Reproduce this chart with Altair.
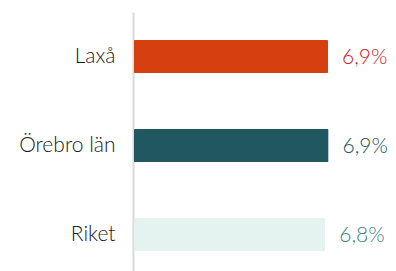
import altair as alt
import pandas as pd

categories = ["Laxå", "Örebro län", "Riket"]
values = [6.9, 6.92, 6.8]
labels = ["6,9%", "6,9%", "6,8%"]
bar_colors = ["#D63F10", "#215761", "#E4F3EF"]
text_colors = ["#C41E2A", "#24555B", "#43807F"]

df = pd.DataFrame({"cat": categories, "value": values, "label": labels,
                   "bar": bar_colors, "tc": text_colors})

y = alt.Y("cat:N", sort=categories, title=None,
          scale=alt.Scale(paddingInner=0.63, paddingOuter=0.315),
          axis=alt.Axis(domainColor="#D9D9D9", domainWidth=2, ticks=False,
                        labelFont="Lato", labelFontSize=21, labelFontWeight=300,
                        labelColor="#1A1A1A",
                        labelPadding=18, grid=False, offset=1))
x = alt.X("value:Q", scale=alt.Scale(domain=[0, 8.5]), axis=None)

bars = alt.Chart(df).mark_bar(cornerRadius=1).encode(
    x=x, y=y, color=alt.Color("bar:N", scale=None))
text = alt.Chart(df).mark_text(align="left", baseline="middle", dx=14, dy=1,
                               font="Lato", fontSize=21, fontWeight=300).encode(
    x=x, y=y, text="label:N", color=alt.Color("tc:N", scale=None))

chart = alt.layer(bars, text).properties(
    width=239, height=267,
    autosize=alt.AutoSizeParams(type="none"),
    padding={"left": 126, "top": 4, "right": 15, "bottom": 0},
).configure_view(stroke=None)

chart.save("out.html", embed_options={"renderer": "svg", "actions": False})
